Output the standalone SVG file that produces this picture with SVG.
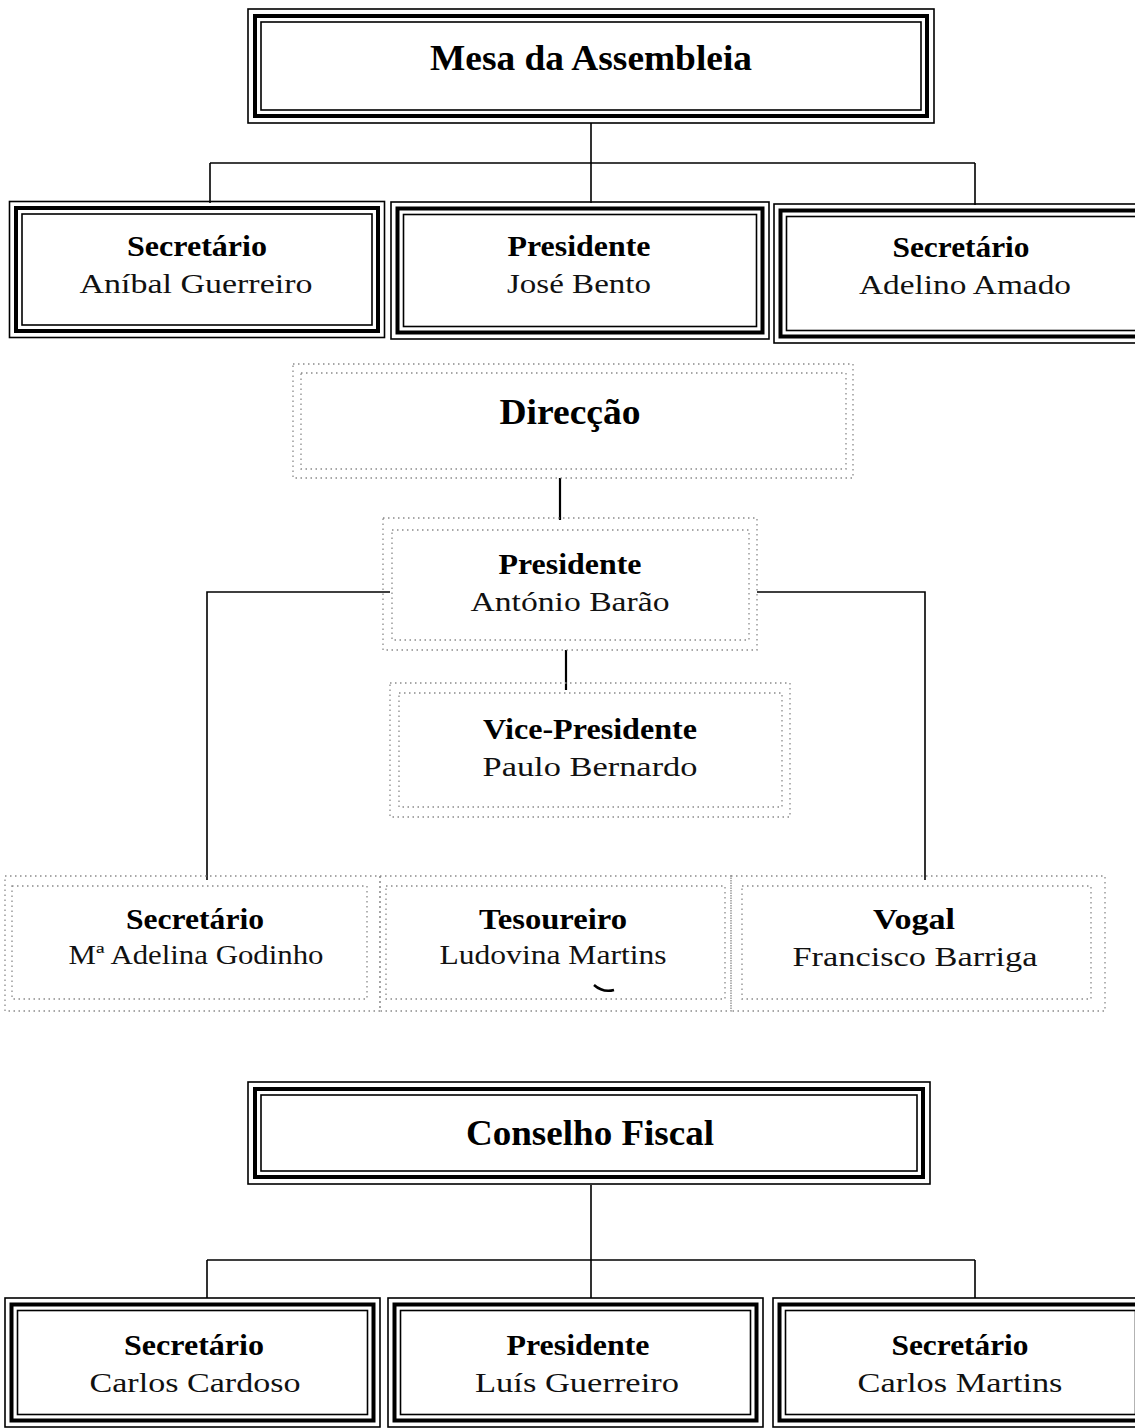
<svg xmlns="http://www.w3.org/2000/svg" width="1135" height="1428" viewBox="0 0 1135 1428">
<defs>
<style>
.o{fill:none;stroke:#000;stroke-width:1.6}
.m{fill:none;stroke:#000;stroke-width:4}
.i{fill:none;stroke:#000;stroke-width:1.6}
.d{fill:none;stroke:#8a8a8a;stroke-width:1.3;stroke-dasharray:1.5 3.5}
.c{fill:none;stroke:#000;stroke-width:1.6}
.h{font-family:"Liberation Serif","Times New Roman",serif;font-weight:bold;font-size:36px;text-anchor:middle;fill:#000}
.r{font-family:"Liberation Serif","Times New Roman",serif;font-weight:bold;font-size:30px;text-anchor:middle;fill:#000}
.n{font-family:"Liberation Serif","Times New Roman",serif;font-size:27px;text-anchor:middle;fill:#111}
</style>
</defs>
<rect width="1135" height="1428" fill="#fff"/>

<g id="connectors">
<path class="c" d="M591 123V163M210 163H975M210 163V203M591 163V203M975 163V205"/>
<path class="c" d="M560 478V520" style="stroke-width:2.2"/>
<path class="c" d="M207 880V592H390M757 592H925V880"/>
<path class="c" d="M566 650V690" style="stroke-width:2.2"/>
<path class="c" d="M591 1185V1260M207 1260H975M207 1260V1298M591 1260V1298M975 1260V1298"/>
</g>

<g id="mesa">
<rect class="o" x="248" y="9" width="686" height="114"/>
<rect class="m" x="255" y="16" width="672" height="100"/>
<rect class="i" x="261" y="22" width="660" height="88"/>
<text class="h" x="591" y="70" textLength="322" lengthAdjust="spacingAndGlyphs">Mesa da Assembleia</text>
</g>

<g id="mesa-sec1">
<rect class="o" x="9.5" y="201.5" width="375" height="136"/>
<rect class="m" x="16" y="208" width="362" height="123"/>
<rect class="i" x="22" y="214" width="350" height="111"/>
<text class="r" x="197" y="256" textLength="140" lengthAdjust="spacingAndGlyphs">Secretário</text>
<text class="n" x="196" y="293" textLength="233" lengthAdjust="spacingAndGlyphs">Aníbal Guerreiro</text>
</g>
<g id="mesa-pres">
<rect class="o" x="391" y="202" width="378" height="137"/>
<rect class="m" x="397.5" y="208.5" width="365" height="124"/>
<rect class="i" x="403.5" y="214.5" width="353" height="112"/>
<text class="r" x="579" y="256" textLength="143" lengthAdjust="spacingAndGlyphs">Presidente</text>
<text class="n" x="579" y="293" textLength="144" lengthAdjust="spacingAndGlyphs">José Bento</text>
</g>
<g id="mesa-sec2">
<rect class="o" x="774" y="204" width="375" height="139"/>
<rect class="m" x="780.5" y="210.5" width="362" height="126"/>
<rect class="i" x="786.5" y="216.5" width="350" height="114"/>
<text class="r" x="961" y="257" textLength="137" lengthAdjust="spacingAndGlyphs">Secretário</text>
<text class="n" x="965" y="294" textLength="212" lengthAdjust="spacingAndGlyphs">Adelino Amado</text>
</g>

<g id="direccao">
<rect class="d" x="293" y="364" width="560" height="114"/>
<rect class="d" x="301" y="373" width="545" height="96"/>
<text class="h" x="570" y="424" textLength="141" lengthAdjust="spacingAndGlyphs">Direcção</text>
</g>

<g id="dir-pres">
<rect class="d" x="383" y="518" width="374" height="132"/>
<rect class="d" x="392" y="530" width="357" height="110"/>
<text class="r" x="570" y="574" textLength="143" lengthAdjust="spacingAndGlyphs">Presidente</text>
<text class="n" x="570" y="611" textLength="199" lengthAdjust="spacingAndGlyphs">António Barão</text>
</g>

<g id="dir-vice">
<rect class="d" x="390" y="683" width="400" height="134"/>
<rect class="d" x="399" y="693" width="383" height="114"/>
<text class="r" x="590" y="739" textLength="214" lengthAdjust="spacingAndGlyphs">Vice-Presidente</text>
<text class="n" x="590" y="776" textLength="215" lengthAdjust="spacingAndGlyphs">Paulo Bernardo</text>
</g>

<g id="dir-sec">
<rect class="d" x="5" y="876" width="375" height="135"/>
<rect class="d" x="12" y="886" width="355" height="113"/>
<text class="r" x="195" y="929" textLength="138" lengthAdjust="spacingAndGlyphs">Secretário</text>
<text class="n" x="196" y="964" textLength="255" lengthAdjust="spacingAndGlyphs">Mª Adelina Godinho</text>
</g>
<g id="dir-tes">
<rect class="d" x="380" y="876" width="351" height="135"/>
<rect class="d" x="386" y="886" width="339" height="113"/>
<text class="r" x="553" y="929" textLength="148" lengthAdjust="spacingAndGlyphs">Tesoureiro</text>
<text class="n" x="553" y="964" textLength="227" lengthAdjust="spacingAndGlyphs">Ludovina Martins</text>
<path d="M594 985Q603 993 614 990" fill="none" stroke="#000" stroke-width="2.5"/>
</g>
<g id="dir-vogal">
<rect class="d" x="731" y="876" width="374" height="135"/>
<rect class="d" x="742" y="886" width="349" height="113"/>
<text class="r" x="914" y="929" textLength="82" lengthAdjust="spacingAndGlyphs">Vogal</text>
<text class="n" x="915" y="966" textLength="245" lengthAdjust="spacingAndGlyphs">Francisco Barriga</text>
</g>

<g id="conselho">
<rect class="o" x="248" y="1082" width="682" height="102"/>
<rect class="m" x="255" y="1089" width="668" height="88"/>
<rect class="i" x="261" y="1095" width="656" height="76"/>
<text class="h" x="590" y="1145" textLength="248" lengthAdjust="spacingAndGlyphs">Conselho Fiscal</text>
</g>

<g id="cf-sec1">
<rect class="o" x="5" y="1298" width="375" height="129"/>
<rect class="m" x="11.5" y="1304.5" width="362" height="116"/>
<rect class="i" x="17.5" y="1310.5" width="350" height="104"/>
<text class="r" x="194" y="1355" textLength="140" lengthAdjust="spacingAndGlyphs">Secretário</text>
<text class="n" x="195" y="1392" textLength="211" lengthAdjust="spacingAndGlyphs">Carlos Cardoso</text>
</g>
<g id="cf-pres">
<rect class="o" x="388" y="1298" width="375" height="129"/>
<rect class="m" x="394.5" y="1304.5" width="362" height="116"/>
<rect class="i" x="400.5" y="1310.5" width="350" height="104"/>
<text class="r" x="578" y="1355" textLength="143" lengthAdjust="spacingAndGlyphs">Presidente</text>
<text class="n" x="577" y="1392" textLength="204" lengthAdjust="spacingAndGlyphs">Luís Guerreiro</text>
</g>
<g id="cf-sec2">
<rect class="o" x="773" y="1298" width="375" height="129"/>
<rect class="m" x="779.5" y="1304.5" width="362" height="116"/>
<rect class="i" x="785.5" y="1310.5" width="350" height="104"/>
<text class="r" x="960" y="1355" textLength="137" lengthAdjust="spacingAndGlyphs">Secretário</text>
<text class="n" x="960" y="1392" textLength="205" lengthAdjust="spacingAndGlyphs">Carlos Martins</text>
</g>
</svg>
